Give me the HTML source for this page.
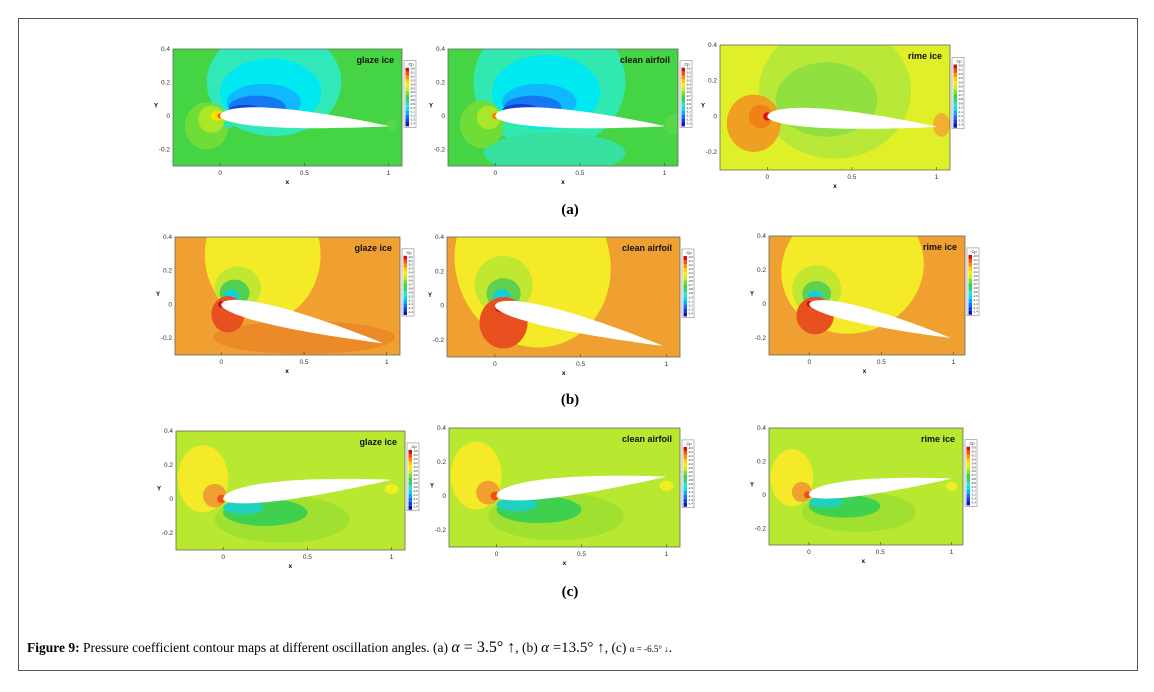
<!DOCTYPE html><html><head><meta charset="utf-8"><style>
body{margin:0;background:#fff;width:1154px;height:687px;overflow:hidden;font-family:"Liberation Serif",serif}
svg text{font-family:"Liberation Sans",sans-serif}
</style></head><body>
<svg id="s" width="1154" height="687" xmlns="http://www.w3.org/2000/svg">
<rect x="18.5" y="18.5" width="1119" height="652" fill="none" stroke="#555" stroke-width="1"/>
<text x="570" y="214" font-weight="bold" font-size="15" text-anchor="middle" style="font-family:'Liberation Serif',serif">(a)</text>
<text x="570" y="404" font-weight="bold" font-size="15" text-anchor="middle" style="font-family:'Liberation Serif',serif">(b)</text>
<text x="570" y="596" font-weight="bold" font-size="15" text-anchor="middle" style="font-family:'Liberation Serif',serif">(c)</text>
<text x="27" y="652" font-size="13.5" style="font-family:'Liberation Serif',serif"><tspan font-weight="bold">Figure 9:</tspan> Pressure coefficient contour maps at different oscillation angles. (a) <tspan font-style="italic" font-size="16">α</tspan><tspan font-size="16"> = 3.5° ↑</tspan>, (b) <tspan font-style="italic" font-size="15">α</tspan><tspan font-size="15"> =13.5° ↑</tspan>, (c) <tspan font-size="9">α = -6.5° ↓</tspan>.</text>
<g id="g"></g>
</svg>
<script>
const g=document.getElementById('g');let h='';
function P(x0,y0,w,hh,x0d,x1d,yTop,yBot,bg,blobs,label,ang,leg){
 const X=d=>x0+(d-x0d)/(x1d-x0d)*w, Y=d=>y0+(yTop-d)/(yTop-yBot)*hh;
 h+=`<svg x="${x0}" y="${y0}" width="${w}" height="${hh}"><rect width="${w}" height="${hh}" fill="${bg}"/>`;
 const lx=X(0)-x0, ly=Y(0)-y0, sx=(X(1)-X(0));
 for(const b of blobs){h+=`<ellipse cx="${lx+b[0]*sx}" cy="${ly-b[1]*sx}" rx="${b[2]*sx}" ry="${b[3]*sx}" fill="${b[4]}" transform="rotate(${b[5]||0} ${lx+b[0]*sx} ${ly-b[1]*sx})"/>`;}
 let up=[],lo=[];for(let i=0;i<=40;i++){const t=i/40,xx=t*t;const th=0.6*(0.2969*Math.sqrt(xx)-0.126*xx-0.3516*xx*xx+0.2843*xx**3-0.1015*xx**4);up.push([xx,th*1.1]);lo.push([xx,-th*0.8]);}
 const a=ang*Math.PI/180;const pts=up.concat(lo.reverse()).map(p=>{const px=p[0]*Math.cos(a)+p[1]*Math.sin(a),py=-p[0]*Math.sin(a)+p[1]*Math.cos(a);return (lx+px*sx).toFixed(1)+','+(ly-py*sx).toFixed(1)}).join(' ');
 h+=`<polygon points="${pts}" fill="#fff"/>`;
 h+=`<text x="${w-8}" y="14" font-size="9" font-weight="bold" text-anchor="end" fill="#111">${label}</text></svg>`;
 h+=`<rect x="${x0}" y="${y0}" width="${w}" height="${hh}" fill="none" stroke="#666" stroke-width="0.8"/>`;
 for(const [v,s] of [[0,'0'],[0.5,'0.5'],[1,'1']]){h+=`<text x="${X(v)}" y="${y0+hh+9}" font-size="6.5" text-anchor="middle" fill="#333">${s}</text><line x1="${X(v)}" x2="${X(v)}" y1="${y0+hh}" y2="${y0+hh-3}" stroke="#333" stroke-width=".5"/>`;}
 h+=`<text x="${X(0.5)-17}" y="${y0+hh+18}" font-size="6.5" font-weight="bold" text-anchor="middle">x</text>`;
 for(const [v,s] of [[0.4,'0.4'],[0.2,'0.2'],[0,'0'],[-0.2,'-0.2']]){if(Y(v)<y0-2||Y(v)>y0+hh+2)continue;h+=`<text x="${x0-3}" y="${Y(v)+2}" font-size="6.5" text-anchor="end" fill="#333">${s}</text>`;}
 h+=`<text x="${x0-19}" y="${Y(0.05)}" font-size="6" font-weight="bold">Y</text>`;
 const lgx=x0+w+2,lgy=y0+hh*0.1;h+=`<rect x="${lgx}" y="${lgy}" width="12" height="${hh*0.57}" fill="#fff" stroke="#888" stroke-width=".6"/><text x="${lgx+7}" y="${lgy+5}" font-size="4" text-anchor="middle">Cp</text>`;
 const n=leg.length,ch=(hh*0.57-8)/n;leg.forEach((c,i)=>{h+=`<rect x="${lgx+1.5}" y="${lgy+7+i*ch}" width="3.5" height="${ch}" fill="${c}"/><text x="${lgx+6}" y="${lgy+9+i*ch}" font-size="2.8">-${(i/10).toFixed(1)}</text>`});
}
const L=['#d01010','#ff5000','#ff9000','#ffd000','#f0f000','#c0f020','#80e020','#40d040','#30d080','#30e0c0','#00e0f0','#00b0ff','#1070ff','#1040e0','#1010c0'];
const GRN='#44d444',CY2='#00e8f0',B1='#10b8ff',B2='#1478f0',B3='#1040d8';
const aBl=[[0.32,0.2,0.4,0.32,'#30e8b8'],[0.3,0.14,0.3,0.2,CY2],[0.26,0.08,0.22,0.11,B1],[0.22,0.05,0.17,0.07,B2],[0.15,0.03,0.1,0.035,B3],[-0.08,-0.06,0.13,0.14,'#70dc38'],[-0.05,-0.02,0.08,0.08,'#a8e828'],[-0.02,0,0.035,0.03,'#f8e000'],[0.0,0,0.015,0.015,'#ff5010'],[0.05,-0.05,0.03,0.025,'#30e0b0'],[1.02,-0.05,0.03,0.035,'#58d848']];
P(173,49,229,117,-0.28,1.08,0.4,-0.3,GRN,aBl,'glaze ice',3.5,L);
P(448,49,230,117,-0.28,1.08,0.4,-0.3,GRN,[[0.32,0.2,0.45,0.4,'#30e8b0'],[0.3,0.14,0.32,0.22,CY2],[0.26,0.08,0.22,0.11,B1],[0.22,0.05,0.17,0.07,B2],[0.15,0.03,0.11,0.04,B3],[0.35,-0.22,0.42,0.12,'#38e0a0'],[-0.08,-0.05,0.13,0.14,'#70dc38'],[-0.04,-0.01,0.07,0.07,'#a8e828'],[0,0,0.02,0.02,'#ff8000'],[1.05,-0.05,0.05,0.06,'#58d848']],'clean airfoil',3.5,L);
P(720,45,230,125,-0.28,1.08,0.4,-0.3,'#e0f028',[[0.4,0.15,0.45,0.4,'#b8e838'],[0.35,0.1,0.3,0.22,'#90e040'],[-0.08,-0.04,0.16,0.17,'#f0a020'],[-0.04,0,0.07,0.07,'#f08018'],[0,0,0.025,0.025,'#e01010'],[1.03,-0.05,0.05,0.07,'#f0b030']],'rime ice',3.5,L);
const OR='#f0a030';
P(175,237,225,118,-0.28,1.08,0.4,-0.3,OR,[[0.25,0.3,0.35,0.4,'#f4ea28'],[0.1,0.1,0.14,0.13,'#c0e830'],[0.08,0.07,0.09,0.08,'#50d050'],[0.06,0.05,0.045,0.04,'#10d0e0'],[0.5,-0.2,0.55,0.1,'#ec8a28'],[0.04,-0.06,0.1,0.11,'#e85020'],[0,0,0.02,0.02,'#d01010']],'glaze ice',13.5,L);
P(447,237,233,120,-0.28,1.08,0.4,-0.3,OR,[[0.22,0.25,0.45,0.5,'#f4ea28',-20],[0.05,0.12,0.17,0.17,'#c0e830'],[0.05,0.07,0.1,0.09,'#60d050'],[0.04,0.05,0.05,0.045,'#10d0e0'],[0.05,-0.1,0.14,0.15,'#e85020'],[0.03,-0.01,0.03,0.03,'#d01010']],'clean airfoil',13.5,L);
P(769,236,196,119,-0.28,1.08,0.4,-0.3,OR,[[0.3,0.25,0.5,0.45,'#f4ea28',-20],[0.05,0.1,0.17,0.17,'#c0e830'],[0.05,0.07,0.1,0.09,'#60d050'],[0.04,0.05,0.05,0.045,'#10d0e0'],[0.04,-0.08,0.13,0.13,'#e85020'],[0,0,0.02,0.02,'#d01010']],'rime ice',13.5,L);
const YG='#b8e830';
const cBl=[[-0.12,0.12,0.15,0.2,'#f4ea28'],[-0.05,0.02,0.07,0.07,'#f0a030'],[-0.01,0,0.025,0.025,'#f05010'],[0.35,-0.12,0.4,0.14,'#a0e030'],[0.25,-0.08,0.25,0.08,'#40d050'],[0.12,-0.05,0.12,0.04,'#20d0c0'],[1.0,0.06,0.04,0.03,'#f0f020']];
P(176,431,229,119,-0.28,1.08,0.4,-0.3,YG,cBl,'glaze ice',-6.5,L);
P(449,428,231,119,-0.28,1.08,0.4,-0.3,YG,cBl,'clean airfoil',-6.5,L);
P(769,428,194,117,-0.28,1.08,0.4,-0.3,YG,cBl,'rime ice',-6.5,L);
g.innerHTML=h;
</script>
</body></html>
